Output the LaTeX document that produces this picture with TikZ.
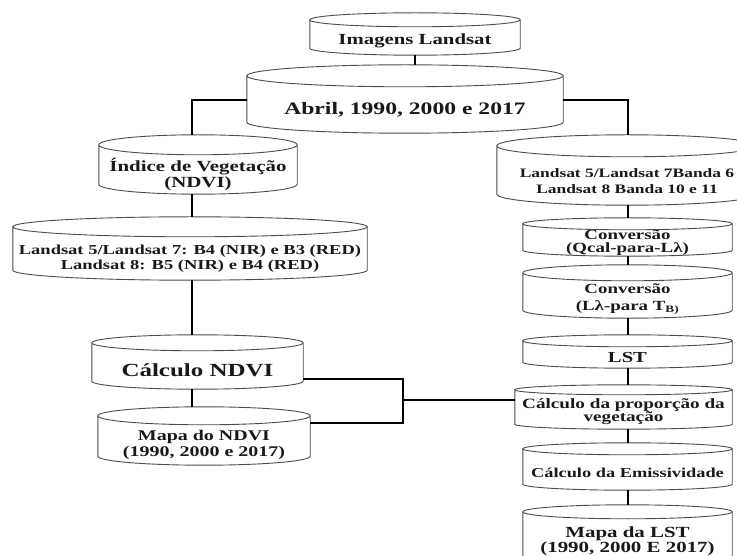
\documentclass[tikz,border=0pt]{standalone}
\usepackage{fontspec}
\setmainfont{Liberation Serif}[FakeStretch=1.35]
\usetikzlibrary{calc}
\newcommand\fs[2]{\fontsize{#1}{#2}\selectfont\bfseries}
\tikzset{
  cylbody/.style={inner sep=0pt, align=center, text=black!90},
  cylline/.style={draw=black!70, line width=0.9pt},
  link/.style={line width=2.6pt, black},
  hlink/.style={line width=2.2pt, black},
}
\newcommand\drawcyl[2]{%
  \draw[cylline] let \p1=(#1.north west), \p2=(#1.south east), \n1={(\x2-\x1)/2} in
    ({\x1+\n1},{\y1+#2pt}) ellipse[x radius=\n1, y radius=#2pt]
    (\x1,{\y1+#2pt}) -- (\x1,{\y2+#2pt}) arc[start angle=180, end angle=360, x radius=\n1, y radius=#2pt] -- (\x2,{\y1+#2pt});
}
% name, cx, top (px), side bottom (px), half width, ry, font, text
\newcommand\cylbox[8]{%
  \node[cylbody, minimum width={2*#5}, minimum height={#4-#3-#6}, font=#7] (#1) at ({#2},{555-(#3+#4+3*#6)/2}) {#8};
  \drawcyl{#1}{#6}
  \coordinate (#1-top) at ([yshift={2*#6}]#1.north);
}
\begin{document}
\begin{tikzpicture}[x=1pt,y=1pt]
\useasboundingbox (0,0) rectangle (737,555);
\clip (0,0) rectangle (737,555);
\fill[white] (0,0) rectangle (737,555);

\cylbox{img}{415}{13}{48}{105}{7}{\fs{15.4}{17}}{Imagens Landsat}
\cylbox{abril}{405}{65}{122}{158}{11}{\fs{17.5}{19}}{Abril, 1990, 2000 e 2017}
\cylbox{indice}{198}{135}{184}{99}{10}{\fs{15.5}{16}}{Índice de Vegetação\\(NDVI)}
\cylbox{landL}{190}{217}{270}{177}{10}{\fs{13.7}{15}}{Landsat 5/Landsat 7: B4 (NIR) e B3 (RED)\\Landsat 8: B5 (NIR) e B4 (RED)}
\cylbox{calc}{197.5}{335}{381}{105.5}{8}{\fs{18.5}{20}}{Cálculo NDVI}
\cylbox{mapaN}{204}{407}{456}{106}{9}{\fs{14.8}{16}}{Mapa do NDVI\\(1990, 2000 e 2017)}

\cylbox{landR}{627}{135}{194}{130}{11}{\fs{12.9}{16}}{Landsat 5/Landsat 7Banda 6\\Landsat 8 Banda 10 e 11}
\cylbox{conv1}{627.5}{218}{250}{104.5}{6}{\fs{14}{13}}{Conversão\\(Qcal-para-Lλ)}
\cylbox{conv2}{627.5}{265}{310}{104.5}{8}{\fs{14}{17}}{Conversão\\(Lλ-para T\textsubscript{B)}}
\cylbox{lst}{627.5}{335}{362}{104.5}{6}{\fs{15.3}{16}}{LST}
\cylbox{prop}{623.5}{385}{424}{108.5}{5}{\fs{14.2}{13}}{Cálculo da proporção da\\vegetação}
\cylbox{emis}{627.5}{443}{484}{104.5}{6}{\fs{13.6}{16}}{Cálculo da Emissividade}
\cylbox{mapaL}{627.5}{505}{556}{104.5}{7}{\fs{15.5}{14}}{Mapa da LST\\(1990, 2000 E 2017)}

\coordinate (spL) at (192,0);
\coordinate (spR) at (628,0);
\coordinate (br) at (403,0);
\coordinate (abrilL) at ([yshift=10pt]abril.west);
\coordinate (abrilR) at ([yshift=10pt]abril.east);
\coordinate (calcR) at ([yshift=-9pt]calc.east);
\coordinate (mapaR) at ([yshift=22pt]mapaN.east);
\coordinate (propL) at ([yshift=12pt]prop.west);

\draw[link] (img.south) -- (img.south |- abril-top);
\draw[link] (abrilL) -| (spL |- indice-top);
\draw[link] (abrilR) -| (spR |- landR-top);

\draw[link] (spL |- indice.south) -- (spL |- landL-top);
\draw[link] (spL |- landL.south) -- (spL |- calc-top);
\draw[link] (spL |- calc.south) -- (spL |- mapaN-top);

\draw[hlink] (calcR) -| (br |- mapaR) -- (mapaR);
\draw[hlink] (br |- propL) -- (propL);

\draw[link] (spR |- landR.south) -- (spR |- conv1-top);
\draw[link] (spR |- conv1.south) -- (spR |- conv2-top);
\draw[link] (spR |- conv2.south) -- (spR |- lst-top);
\draw[link] (spR |- lst.south) -- (spR |- prop-top);
\draw[link] (spR |- prop.south) -- (spR |- emis-top);
\draw[link] (spR |- emis.south) -- (spR |- mapaL-top);
\end{tikzpicture}
\end{document}
